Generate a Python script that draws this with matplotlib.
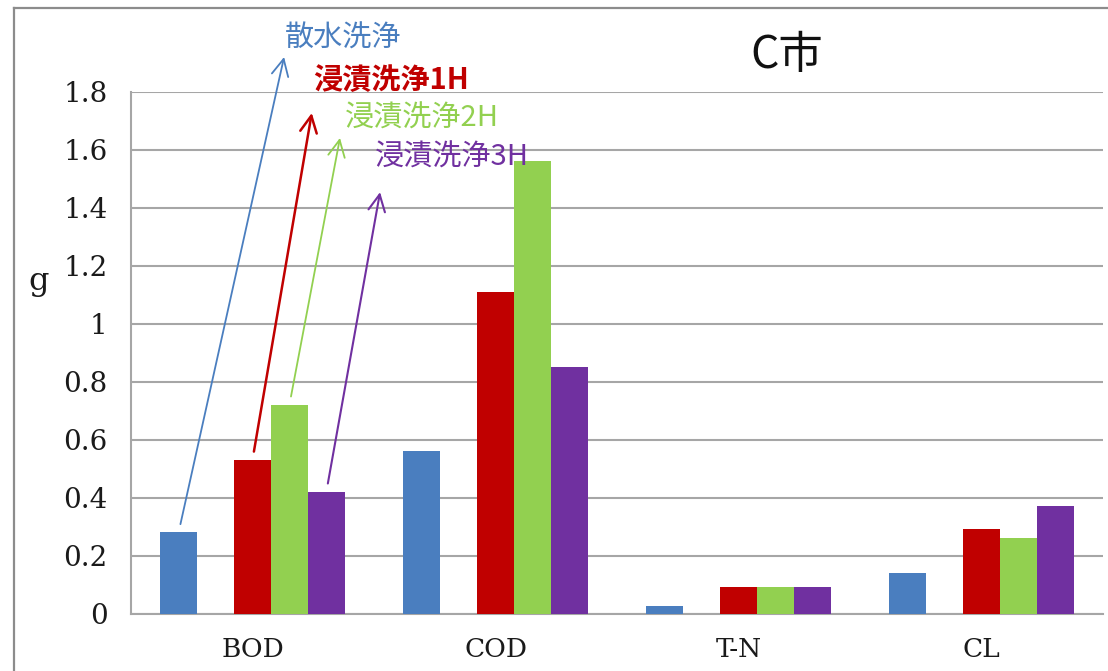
import matplotlib
matplotlib.use("Agg")
import matplotlib.pyplot as plt
from matplotlib.lines import Line2D
import numpy as np

# --- data -------------------------------------------------------------
categories = ["BOD", "COD", "T-N", "CL"]
series_names = ["散水洗浄", "浸漬洗浄1H", "浸漬洗浄2H", "浸漬洗浄3H"]
spray_wash = [0.28, 0.56, 0.025, 0.14]
soak_1h = [0.53, 1.11, 0.09, 0.29]
soak_2h = [0.72, 1.56, 0.09, 0.26]
soak_3h = [0.42, 0.85, 0.09, 0.37]
y_ticks = [0, 0.2, 0.4, 0.6, 0.8, 1.0, 1.2, 1.4, 1.6, 1.8]
title_text = "C市"
y_label = "g"

# --- style ------------------------------------------------------------
colors = ["#4A7EBF", "#C00000", "#92D050", "#7030A0"]
slot = [-2, 0, 1, 2]          # slot 1 of the group is left empty
bar_w = 0.152
grid_col = "#A6A6A6"
text_col = "#1A1A1A"
cjk = ["Noto Sans CJK JP", "DejaVu Sans"]

W, H = 1108, 671
fig = plt.figure(figsize=(W / 100, H / 100), dpi=100)
fig.patch.set_facecolor("white")


def fx(px):
    return px / W


def fy(py):
    return 1 - py / H


ax = fig.add_axes([fx(131), fy(613.5), fx(1103) - fx(131), fy(91.5) - fy(613.5)])

x = np.arange(len(categories))
all_series = [spray_wash, soak_1h, soak_2h, soak_3h]
for vals, s, c in zip(all_series, slot, colors):
    ax.bar(x + s * bar_w, vals, width=bar_w, color=c, zorder=3, linewidth=0)

ax.set_xlim(-0.5, len(categories) - 0.5)
ax.set_ylim(0, 1.8)
ax.set_yticks(y_ticks)
ax.set_yticklabels([f"{t:g}" for t in y_ticks], family="DejaVu Serif",
                   fontsize=20, color=text_col)
ax.set_xticks(x)
ax.set_xticklabels(categories, family="DejaVu Serif", fontsize=19, color=text_col)
ax.tick_params(axis="y", length=0, pad=17)
ax.tick_params(axis="x", length=0, pad=17)
ax.yaxis.grid(True, color=grid_col, linewidth=1.5, zorder=0)
ax.set_axisbelow(True)
for side in ("top", "right"):
    ax.spines[side].set_visible(False)
for side in ("left", "bottom"):
    ax.spines[side].set_color(grid_col)
    ax.spines[side].set_linewidth(1.5)

# title and axis unit
fig.text(fx(787), fy(55), title_text, family=cjk, fontsize=32,
         ha="center", va="center", color="#111111")
fig.text(fx(39), fy(281), y_label, family="DejaVu Serif", fontsize=23,
         ha="center", va="center", color=text_col)

# series callouts: arrow from each BOD bar up to its label
arrow_tips = [(0.130, 1.919), (0.244, 1.726), (0.360, 1.640), (0.525, 1.453)]
label_pos = [(285, 39), (313, 80), (345, 119), (375, 158)]
label_weight = ["normal", "bold", "normal", "normal"]
arrow_lw = [1.3, 1.8, 1.3, 1.5]
for i, name in enumerate(series_names):
    bx = x[0] + slot[i] * bar_w
    by = all_series[i][0]
    ax.annotate("", xy=arrow_tips[i], xycoords="data",
                xytext=(bx, by), textcoords="data",
                arrowprops=dict(arrowstyle="->,head_length=1.2,head_width=0.6",
                                color=colors[i], lw=arrow_lw[i],
                                shrinkA=6, shrinkB=0),
                annotation_clip=False, zorder=5)
    fig.text(fx(label_pos[i][0]), fy(label_pos[i][1]), name, family=cjk,
             fontsize=21, fontweight=label_weight[i], color=colors[i],
             ha="left", va="center")

# outer chart frame (top and left edges)
fig.add_artist(Line2D([fx(14), 1.0], [fy(8), fy(8)], color="#8C8C8C", lw=1.6))
fig.add_artist(Line2D([fx(14), fx(14)], [fy(8), 0.0], color="#8C8C8C", lw=1.6))

fig.savefig("out.png", dpi=100, facecolor="white")
